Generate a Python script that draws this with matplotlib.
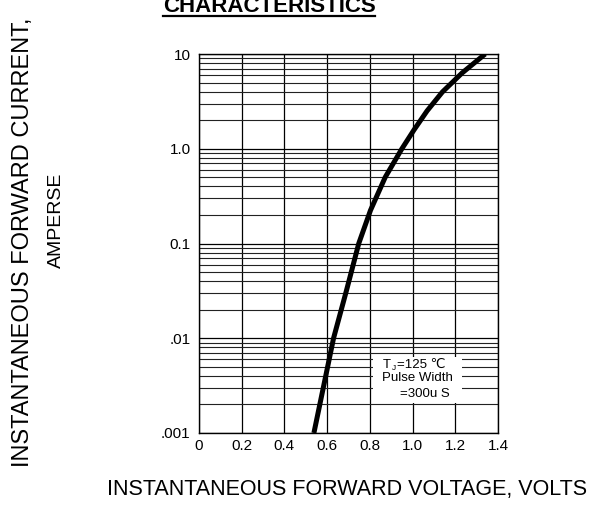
import numpy as np
import matplotlib
matplotlib.use("Agg")
import matplotlib.pyplot as plt
from matplotlib.lines import Line2D
from matplotlib.patches import Rectangle

plt.rcParams['font.family'] = ['Liberation Sans', 'DejaVu Sans']

# forward voltage (V) vs forward current (A)
volts = [0.538, 0.584, 0.630, 0.690, 0.748, 0.803, 0.872, 0.950, 1.007, 1.068, 1.140, 1.232, 1.340]
amps = [0.001, 0.00316, 0.01, 0.0316, 0.1, 0.224, 0.501, 1.0, 1.585, 2.512, 3.981, 6.31, 10.0]

xticks = [0, 0.2, 0.4, 0.6, 0.8, 1.0, 1.2, 1.4]
xticklabels = ['0', '0.2', '0.4', '0.6', '0.8', '1.0', '1.2', '1.4']
yticks = [0.001, 0.01, 0.1, 1, 10]
yticklabels = ['.001', '.01', '0.1', '1.0', '10']

fig = plt.figure(figsize=(6.10, 5.16), dpi=100)
ax = fig.add_axes([199/610, 83/516, 299/610, 379/516])

ax.set_yscale('log')
ax.set_xlim(0, 1.4)
ax.set_ylim(0.001, 10)
ax.set_xticks(xticks)
ax.set_xticklabels(xticklabels)
ax.set_yticks(yticks)
ax.set_yticklabels(yticklabels)
ax.tick_params(which='both', length=0, labelsize=11, pad=6)
ax.tick_params(axis='x', pad=4)
ax.grid(which='major', color='black', lw=0.9)
ax.grid(which='minor', axis='y', color='#222222', lw=0.8)
for s in ax.spines.values():
    s.set_color('black')
    s.set_linewidth(1.0)

ax.plot(volts, amps, color='black', lw=3.6, solid_capstyle='butt',
        solid_joinstyle='round', zorder=5)

# note box
ax.add_patch(Rectangle((0.815, 0.00209), 1.232 - 0.815, 0.00638 - 0.00209,
                       facecolor='white', edgecolor='none', zorder=3))
ax.text(0.86, 0.00525, 'T', fontsize=9.5, va='center', ha='left', zorder=4)
ax.annotate('J', (0.86, 0.00525), xytext=(6.5, -2.5), textcoords='offset points',
            fontsize=6, va='center', ha='left', zorder=4)
ax.annotate('=125 \u2103', (0.86, 0.00525), xytext=(10, 0), textcoords='offset points',
            fontsize=9.5, va='center', ha='left', zorder=4)
ax.text(0.857, 0.00383, 'Pulse Width', fontsize=9.5, va='center', ha='left', zorder=4)
ax.text(0.94, 0.0026, '=300u S', fontsize=9.5, va='center', ha='left', zorder=4)

# labels
fig.text(23/610, 1 - 242/516, 'INSTANTANEOUS FORWARD CURRENT,', rotation=90,
         fontsize=17, ha='center', va='center')
fig.text(56/610, 1 - 220/516, 'AMPERSE', rotation=90, fontsize=14, ha='center', va='center')
fig.text(347/610, 1 - 490/516, 'INSTANTANEOUS FORWARD VOLTAGE, VOLTS', fontsize=15.5,
         ha='center', va='center')

# clipped title with underline
fig.text(269/610, 1 - 12.5/516, 'CHARACTERISTICS', fontsize=16, fontweight='bold',
         ha='center', va='baseline')
fig.add_artist(Line2D([163/610, 375/610], [1 - 15.5/516, 1 - 15.5/516], color='black', lw=1.6))

fig.savefig('out.png', dpi=100)
